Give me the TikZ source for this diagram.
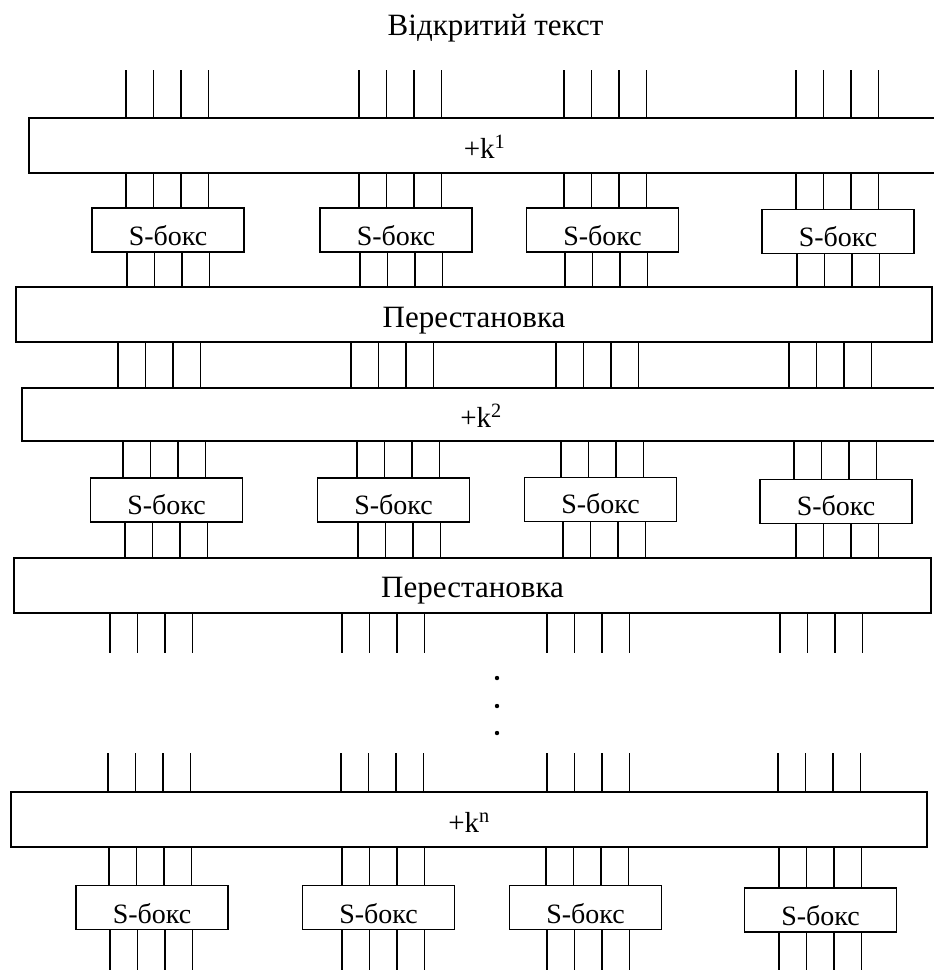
\documentclass[tikz,border=0pt]{standalone}
\usepackage{fontspec}
\setmainfont{Liberation Serif}
\newcommand\fntS{\fontsize{28}{32}\selectfont}
\newcommand\fntK{\fontsize{29}{34}\selectfont}
\newcommand\fntP{\fontsize{31}{36}\selectfont}
\newcommand\wiregrp[3]{\foreach \i in {0,1,2,3}{\coordinate (w) at ({#1+27.5*\i},0); \draw[wire] (#2 -| w) -- (#3 -| w);}}
\tikzset{
  bar/.style={draw, line width=1.3pt, inner sep=0pt, minimum height=55pt, text height=25pt, text depth=0pt, font=\fntK},
  perm/.style={bar, font=\fntP},
  sbox/.style={draw, line width=1.3pt, inner sep=0pt, minimum width=152pt, minimum height=44pt, text height=30pt, text depth=0pt, font=\fntS},
  wire/.style={line width=1.3pt},
  ttl/.style={font=\fntP, inner sep=0pt, anchor=base},
}
\begin{document}
\begin{tikzpicture}[x=1pt, y=-1pt]
\useasboundingbox (0,0) rectangle (934,970);
% title
\node[ttl] (title) at (495.5,35) {Відкритий текст};
% free-end coordinates
\coordinate (t0) at (0,70);
\coordinate (t6) at (0,653);
\coordinate (t7) at (0,753);
\coordinate (b9) at (0,975);
% round 1
\node[bar, minimum width=911pt] (k1) at (484.5,145.5) {+k\textsuperscript{1}};
\node[sbox] (s1a) at (168,230) {S-бокс};
\node[sbox] (s1b) at (396,230) {S-бокс};
\node[sbox] (s1c) at (602.5,230) {S-бокс};
\node[sbox] (s1d) at (838,231.5) {S-бокс};
\node[perm, minimum width=916pt] (p1) at (474,314.5) {Перестановка};
% round 2
\node[bar, minimum width=918pt, minimum height=53pt] (k2) at (481,414.5) {+k\textsuperscript{2}};
\node[sbox, text height=28pt] (s2a) at (166.5,500) {S-бокс};
\node[sbox, text height=28pt] (s2b) at (393.5,500) {S-бокс};
\node[sbox, text height=28pt] (s2c) at (600.5,499.5) {S-бокс};
\node[sbox, text height=28pt] (s2d) at (836,501.5) {S-бокс};
\node[perm, minimum width=917pt, text height=23pt] (p2) at (472.5,585.5) {Перестановка};
% dots
\fill (497,678) circle (2.2pt);
\fill (497,706) circle (2.2pt);
\fill (497,733) circle (2.2pt);
% round n
\node[bar, minimum width=916pt] (kn) at (469,819.5) {+k\textsuperscript{n}};
\node[sbox, text height=31pt] (s3a) at (152,907.5) {S-бокс};
\node[sbox, text height=31pt] (s3b) at (378.5,907.5) {S-бокс};
\node[sbox, text height=31pt] (s3c) at (585.5,907.5) {S-бокс};
\node[sbox, text height=31pt] (s3d) at (820.5,910) {S-бокс};
% wires
\wiregrp{126}{t0}{k1.north}
\wiregrp{359}{t0}{k1.north}
\wiregrp{564}{t0}{k1.north}
\wiregrp{796}{t0}{k1.north}
\wiregrp{126}{k1.south}{s1a.north}
\wiregrp{359}{k1.south}{s1b.north}
\wiregrp{564}{k1.south}{s1c.north}
\wiregrp{796}{k1.south}{s1d.north}
\wiregrp{127}{s1a.south}{p1.north}
\wiregrp{360}{s1b.south}{p1.north}
\wiregrp{565}{s1c.south}{p1.north}
\wiregrp{797}{s1d.south}{p1.north}
\wiregrp{118}{p1.south}{k2.north}
\wiregrp{351}{p1.south}{k2.north}
\wiregrp{556}{p1.south}{k2.north}
\wiregrp{789}{p1.south}{k2.north}
\wiregrp{123}{k2.south}{s2a.north}
\wiregrp{357}{k2.south}{s2b.north}
\wiregrp{561}{k2.south}{s2c.north}
\wiregrp{794}{k2.south}{s2d.north}
\wiregrp{125}{s2a.south}{p2.north}
\wiregrp{358}{s2b.south}{p2.north}
\wiregrp{563}{s2c.south}{p2.north}
\wiregrp{796}{s2d.south}{p2.north}
\wiregrp{110}{p2.south}{t6}
\wiregrp{342}{p2.south}{t6}
\wiregrp{547}{p2.south}{t6}
\wiregrp{780}{p2.south}{t6}
\wiregrp{108}{t7}{kn.north}
\wiregrp{341}{t7}{kn.north}
\wiregrp{547}{t7}{kn.north}
\wiregrp{778}{t7}{kn.north}
\wiregrp{109}{kn.south}{s3a.north}
\wiregrp{342}{kn.south}{s3b.north}
\wiregrp{546}{kn.south}{s3c.north}
\wiregrp{779}{kn.south}{s3d.north}
\wiregrp{110}{s3a.south}{b9}
\wiregrp{342}{s3b.south}{b9}
\wiregrp{547}{s3c.south}{b9}
\wiregrp{779}{s3d.south}{b9}
\end{tikzpicture}
\end{document}
